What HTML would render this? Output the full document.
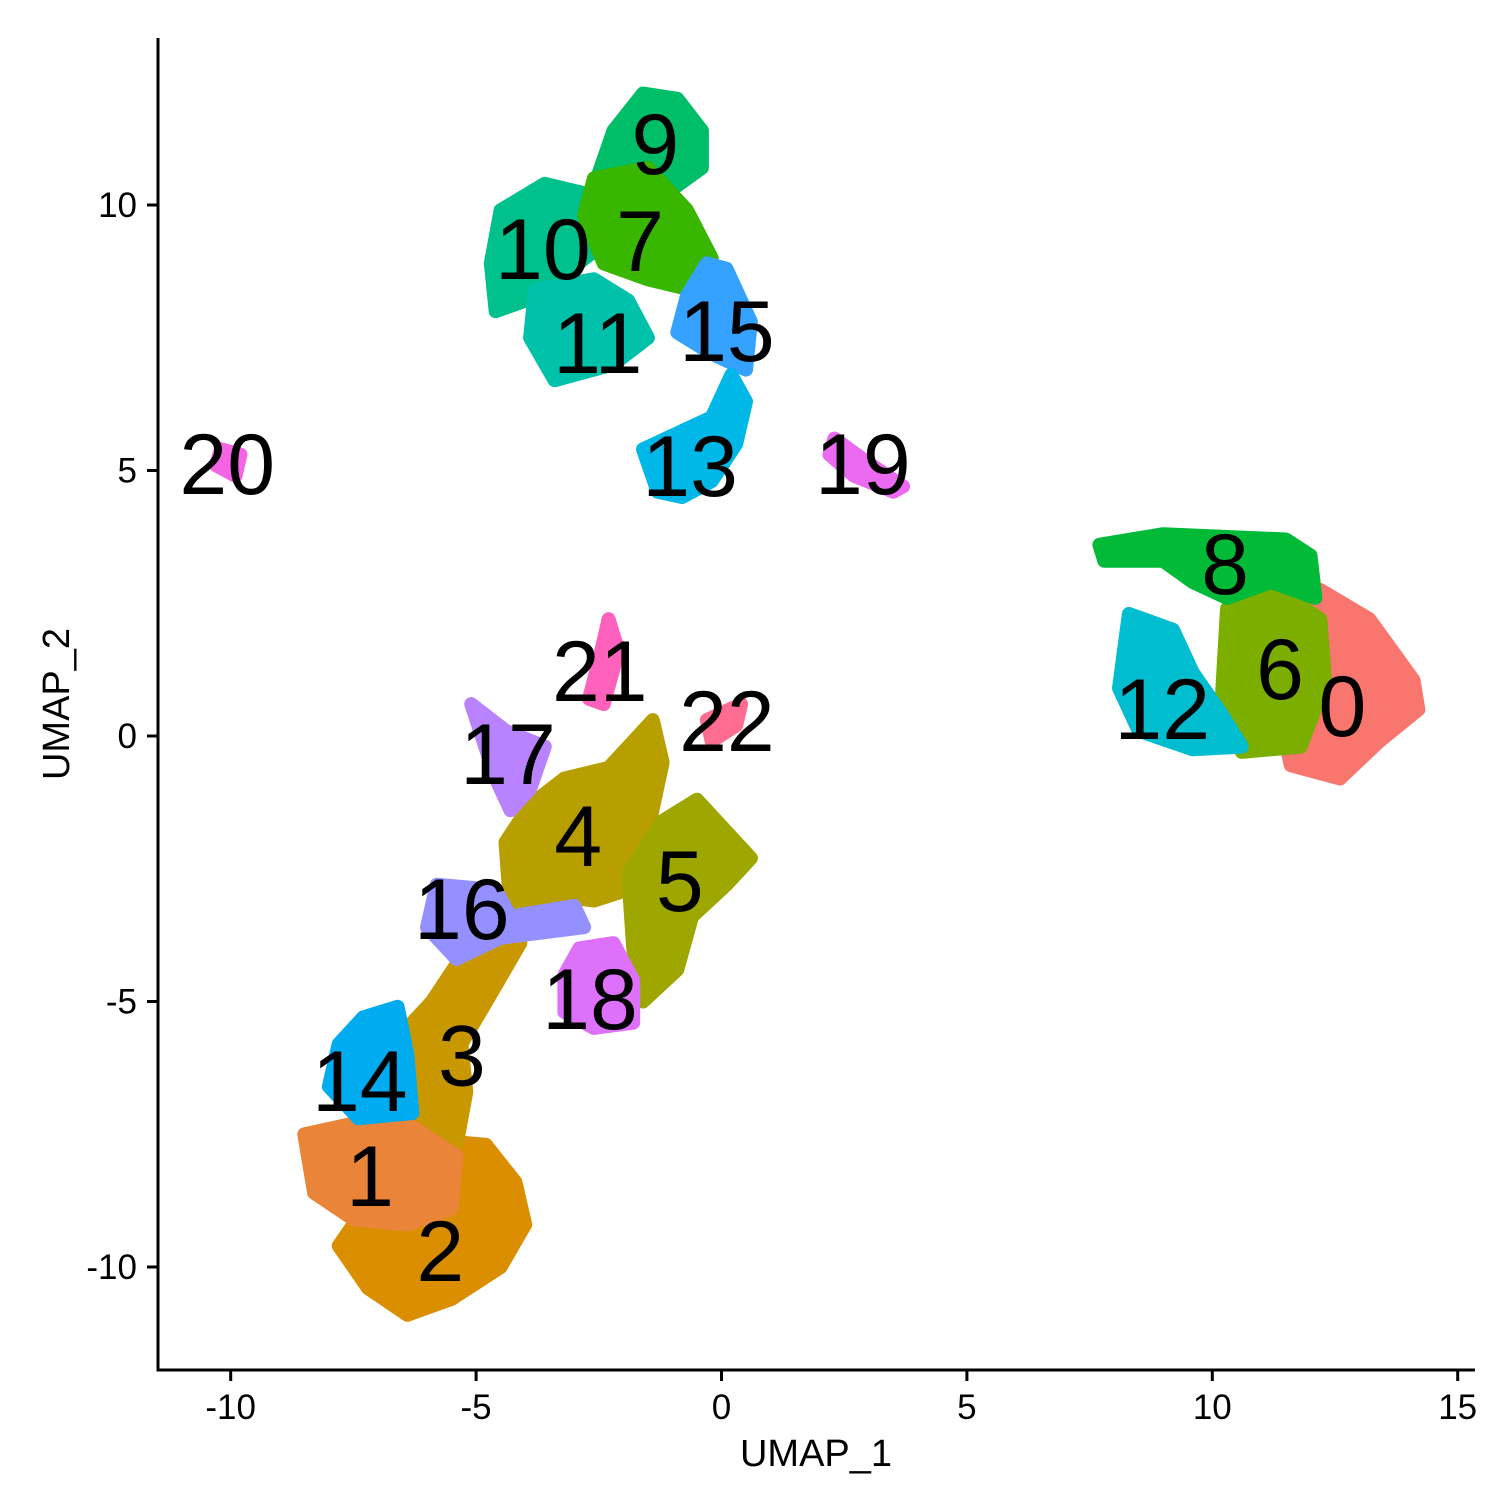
<!DOCTYPE html>
<html><head><meta charset="utf-8"><style>
html,body{margin:0;padding:0;background:#fff;}
svg{display:block;font-family:"Liberation Sans",Arial,sans-serif;}
</style></head><body>
<svg id="chart" width="1512" height="1512" viewBox="0 0 1512 1512" xmlns="http://www.w3.org/2000/svg">
<rect width="1512" height="1512" fill="#fff"/>
<g id="clusters"></g>
<g id="labels"></g>
<g id="axes"></g>
</svg>
<script>
const clusterIds = ["0","1","2","3","4","5","6","7","8","9","10","11","12","13","14","15","16","17","18","19","20","21","22"];
const clusterColors = ["#F8766D","#EA8439","#DB8E00","#C99800","#B79F00","#9DA700","#7CAE00","#39B600","#00BA38","#00BE67","#00C08B","#00C1AA","#00BDD0","#00B8E7","#00ABF0","#35A2FF","#9590FF","#B983FF","#DE71F9","#EA6BF0","#F564E3","#FF62BC","#FF6C91"];
const clusterShapes = [
 [[11.5,2.2],[12.2,2.75],[13.2,2.2],[14.1,1.05],[14.2,0.5],[13.4,-0.1],[12.6,-0.8],[11.6,-0.55],[11.3,0.7]],
 [[-8.5,-7.5],[-7.5,-7.3],[-6.4,-7.3],[-5.4,-7.9],[-5.5,-8.9],[-6.4,-9.2],[-7.5,-9.1],[-8.3,-8.6]],
 [[-6.0,-7.6],[-4.8,-7.7],[-4.2,-8.4],[-4.0,-9.2],[-4.5,-10.0],[-5.5,-10.6],[-6.4,-10.9],[-7.2,-10.4],[-7.8,-9.6],[-7.2,-8.8]],
 [[-5.4,-4.3],[-4.6,-3.7],[-4.1,-3.9],[-4.6,-4.7],[-5.3,-5.8],[-5.2,-6.7],[-5.4,-7.7],[-6.3,-8.3],[-6.9,-7.0],[-6.5,-5.6],[-5.9,-5.0]],
 [[-2.3,-0.6],[-1.4,0.3],[-1.2,-0.5],[-1.5,-1.8],[-1.6,-2.8],[-2.6,-3.1],[-3.4,-3.0],[-4.3,-3.3],[-4.4,-2.0],[-3.9,-1.3],[-3.2,-0.8]],
 [[-1.2,-1.6],[-0.5,-1.2],[0.2,-1.9],[0.6,-2.3],[0.1,-2.8],[-0.6,-3.4],[-0.9,-4.4],[-1.6,-5.0],[-1.8,-4.0],[-1.9,-2.6]],
 [[10.3,2.4],[11.4,2.7],[12.2,2.2],[12.3,1.0],[11.8,-0.2],[10.6,-0.3],[10.2,0.8]],
 [[-2.6,10.5],[-1.5,10.7],[-0.7,9.9],[-0.2,9.0],[-0.6,8.4],[-1.5,8.6],[-2.4,8.9],[-2.8,9.8]],
 [[7.7,3.6],[9,3.8],[11.5,3.7],[12,3.4],[12.1,2.6],[11.2,2.9],[10.3,2.6],[9.6,2.9],[9,3.3],[7.8,3.3]],
 [[-2.2,11.4],[-1.6,12.1],[-0.9,12],[-0.4,11.4],[-0.4,10.7],[-1.0,10.3],[-2.3,10.1],[-2.5,10.6]],
 [[-4.5,9.9],[-3.6,10.4],[-2.7,10.2],[-2.5,9.2],[-3.2,8.7],[-4,8.2],[-4.6,8.0],[-4.7,8.9]],
 [[-3.8,8.4],[-2.6,8.6],[-1.9,8.2],[-1.5,7.5],[-2.2,7.0],[-3.4,6.7],[-3.9,7.5]],
 [[8.3,2.3],[9.2,2.0],[9.6,1.2],[10.2,0.4],[10.6,-0.2],[9.6,-0.25],[8.5,0.1],[8.1,0.9]],
 [[0.2,6.8],[0.5,6.3],[0.3,5.5],[-0.2,4.8],[-0.8,4.5],[-1.3,4.6],[-1.6,5.4],[-0.9,5.7],[-0.2,6.0]],
 [[-7.3,-5.3],[-6.6,-5.1],[-6.4,-6.0],[-6.3,-7.1],[-7.4,-7.2],[-8.0,-6.6],[-7.8,-5.8]],
 [[-0.3,8.9],[0.1,8.8],[0.6,7.8],[0.5,6.9],[-0.2,7.2],[-0.9,7.6],[-0.7,8.3]],
 [[-5.8,-2.8],[-4.6,-2.9],[-4.3,-3.4],[-3.0,-3.2],[-2.8,-3.6],[-4.5,-3.8],[-5.4,-4.2],[-6.0,-3.6]],
 [[-5.1,0.6],[-4.4,0.1],[-3.6,-0.2],[-3.9,-1.0],[-4.3,-1.4],[-4.6,-0.8]],
 [[-2.9,-4.0],[-2.2,-3.9],[-1.8,-4.6],[-1.8,-5.4],[-2.6,-5.5],[-3.2,-5.2],[-3.2,-4.5]],
 [[2.3,5.6],[2.9,5.2],[3.7,4.7],[3.5,4.6],[2.7,4.9],[2.2,5.3]],
 [[-10.2,5.4],[-9.8,5.3],[-9.9,4.9],[-10.3,5.1]],
 [[-2.3,2.2],[-2.1,1.6],[-2.4,0.6],[-2.7,0.7],[-2.5,1.4]],
 [[0.4,0.6],[0.3,0.2],[-0.2,-0.1],[-0.3,0.3]]
];
const labelX = [12.65,-7.16,-5.73,-5.29,-2.92,-0.85,11.38,-1.66,10.26,-1.35,-3.64,-2.52,8.98,-0.64,-7.37,0.11,-5.29,-4.35,-2.68,2.88,-10.07,-2.48,0.11];
const labelY = [0.58,-8.27,-9.68,-6.0,-1.86,-2.71,1.28,9.34,3.26,11.17,9.19,7.42,0.53,5.1,-6.48,7.65,-3.24,-0.32,-4.93,5.14,5.14,1.24,0.3];
const drawOrder = [0,6,8,12,2,3,1,14,9,10,7,11,15,13,4,5,16,17,18,19,20,21,22];
const xTicks = [-10,-5,0,5,10,15];
const yTicks = [-10,-5,0,5,10];

const NS="http://www.w3.org/2000/svg";
const sx = v => 721.5 + v*49.08;
const sy = v => 736 - v*53.1;
function mk(tag, attrs, parent){const e=document.createElementNS(NS,tag);for(const k in attrs)e.setAttribute(k,attrs[k]);parent.appendChild(e);return e;}
const gC=document.getElementById('clusters'), gL=document.getElementById('labels'), gA=document.getElementById('axes');
drawOrder.forEach(i=>{
  const d=clusterShapes[i].map((p,j)=>(j?'L':'M')+sx(p[0]).toFixed(1)+','+sy(p[1]).toFixed(1)).join(' ')+'Z';
  const p=mk('path',{d:d,fill:clusterColors[i],stroke:clusterColors[i],'stroke-width':14,'stroke-linejoin':'round'},gC);
  
  
});
clusterIds.forEach((id,i)=>{
  const t=mk('text',{x:sx(labelX[i]),y:sy(labelY[i])+31,'text-anchor':'middle','font-size':86,fill:'#000'},gL);
  t.textContent=id;
  
  
});
const l1=mk('line',{x1:158,y1:38,x2:158,y2:1371.5,stroke:'#000','stroke-width':3},gA);


const l2=mk('line',{x1:156.5,y1:1370,x2:1475,y2:1370,stroke:'#000','stroke-width':3},gA);


xTicks.forEach(v=>{
  const x=sx(v);
  const tk=mk('line',{x1:x,y1:1370,x2:x,y2:1381,stroke:'#000','stroke-width':3},gA);
  
  
  const t=mk('text',{x:x,y:1419,'text-anchor':'middle','font-size':35,fill:'#000'},gA);
  t.textContent=String(v);
  
  
});
yTicks.forEach(v=>{
  const y=sy(v);
  const tk=mk('line',{x1:147,y1:y,x2:158,y2:y,stroke:'#000','stroke-width':3},gA);
  
  
  const t=mk('text',{x:137,y:y+12,'text-anchor':'end','font-size':35,fill:'#000'},gA);
  t.textContent=String(v);
  
  
});
const xt=mk('text',{x:816,y:1466,'text-anchor':'middle','font-size':38,fill:'#000'},gA);
xt.textContent='UMAP_1';


const yt=mk('text',{x:0,y:0,'text-anchor':'middle','font-size':38,fill:'#000',transform:'translate(69,704) rotate(-90)'},gA);
yt.textContent='UMAP_2';


</script>
</body></html>
